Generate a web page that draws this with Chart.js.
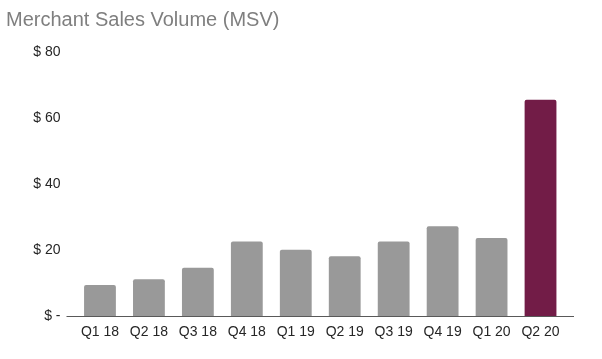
<!DOCTYPE html>
<html>
<head>
<meta charset="utf-8">
<script src="https://cdn.jsdelivr.net/npm/chart.js@4/dist/chart.umd.min.js"></script>
<style>
  html, body { margin: 0; padding: 0; background: #fff; }
  #wrap { width: 602px; height: 359px; }
</style>
</head>
<body>
<div id="wrap"><canvas id="myChart" width="602" height="359"></canvas></div>
<script>
const quarters = ['Q1 18', 'Q2 18', 'Q3 18', 'Q4 18', 'Q1 19', 'Q2 19', 'Q3 19', 'Q4 19', 'Q1 20', 'Q2 20'];
const msv = [9.4, 11.1, 14.6, 22.6, 20.1, 18.1, 22.6, 27.2, 23.6, 65.5];
const barColors = ['#999999', '#999999', '#999999', '#999999', '#999999', '#999999', '#999999', '#999999', '#999999', '#721c47'];
const yTicks = [0, 20, 40, 60, 80];

// linea base un poco más larga que el área de barras
const baseLine = {
    id: 'baseLine',
    afterDatasetsDraw(chart) {
        const { ctx, chartArea } = chart;
        const y = Math.round(chart.scales.y.getPixelForValue(0)) + 0.5;
        ctx.save();
        ctx.strokeStyle = '#595959';
        ctx.lineWidth = 1;
        ctx.beginPath();
        ctx.moveTo(chartArea.left - 9, y);
        ctx.lineTo(chartArea.right + 9, y);
        ctx.stroke();
        ctx.restore();
    }
};

document.addEventListener('DOMContentLoaded', function () {
    const ctx = document.getElementById('myChart').getContext('2d');

    new Chart(ctx, {
        type: 'bar',
        data: {
            labels: quarters,
            datasets: [{
                label: 'MSV',
                data: msv,
                backgroundColor: barColors,
                borderRadius: 2,
                borderSkipped: 'bottom',
                barPercentage: 0.65,
                categoryPercentage: 1.0
            }]
        },
        options: {
            responsive: false,
            animation: false,
            layout: { padding: { left: 6, right: 37, top: 0, bottom: 0 } },
            plugins: {
                legend: { display: false },
                tooltip: { enabled: false },
                title: {
                    display: true,
                    text: 'Merchant Sales Volume (MSV)',
                    align: 'start',
                    color: '#7f7f7f',
                    font: { family: 'Liberation Sans, Arial, sans-serif', size: 20, weight: 'normal' },
                    padding: { top: 8, bottom: 20 }
                }
            },
            scales: {
                x: {
                    grid: { display: false, drawTicks: false },
                    border: { display: false },
                    ticks: {
                        color: '#262626',
                        padding: 8,
                        font: { family: 'Liberation Sans, Arial, sans-serif', size: 14 }
                    },
                    afterFit(scale) { scale.height = 43; }
                },
                y: {
                    min: 0,
                    max: 80,
                    afterBuildTicks(scale) { scale.ticks = yTicks.map(v => ({ value: v })); },
                    grid: { display: false, drawTicks: false },
                    border: { display: false },
                    ticks: {
                        color: '#262626',
                        padding: 15,
                        font: { family: 'Liberation Sans, Arial, sans-serif', size: 14 },
                        callback: v => v === 0 ? '$ -' : '$ ' + v
                    },
                    afterFit(scale) { scale.width = 69.5; }
                }
            }
        },
        plugins: [baseLine]
    });
});
</script>
</body>
</html>
